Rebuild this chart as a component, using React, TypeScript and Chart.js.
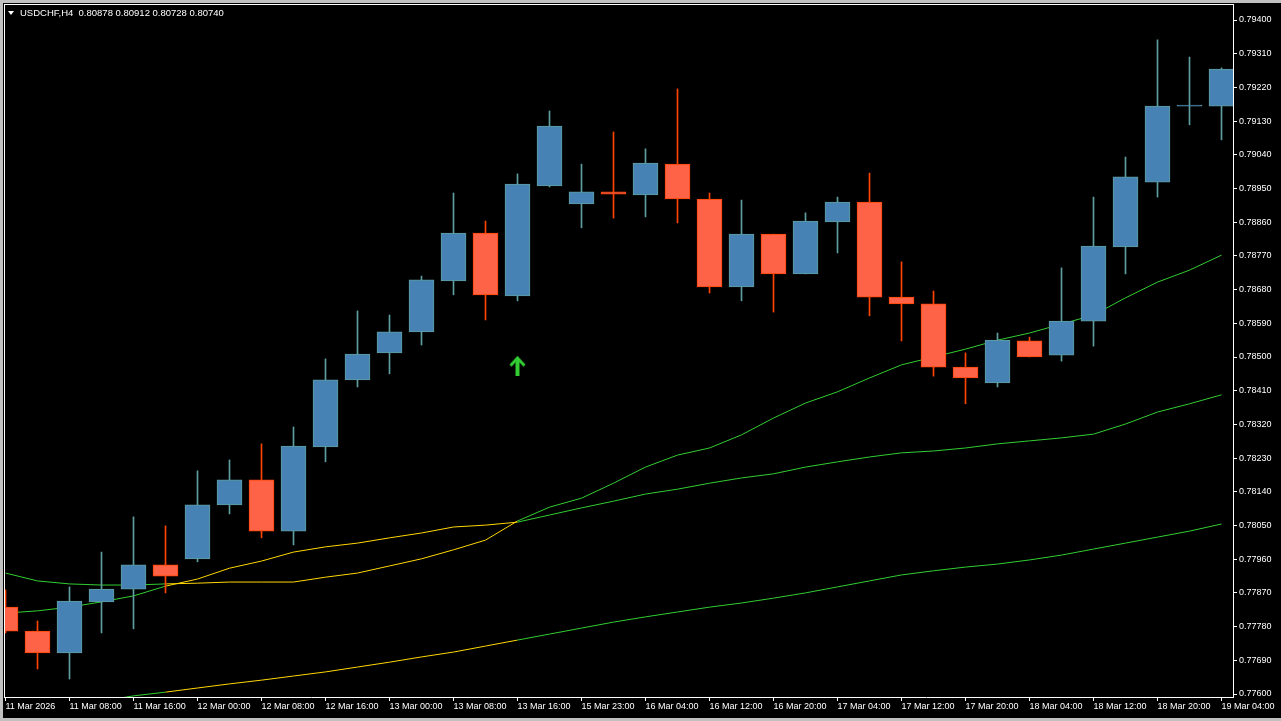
import React, { useEffect, useRef } from 'react';
import { Chart, registerables } from 'chart.js';

Chart.register(...registerables);

// time axis labels, one every 2 bars (H4)
const tickLabels = [
  '11 Mar 2026', '11 Mar 08:00', '11 Mar 16:00', '12 Mar 00:00', '12 Mar 08:00',
  '12 Mar 16:00', '13 Mar 00:00', '13 Mar 08:00', '13 Mar 16:00', '15 Mar 23:00',
  '16 Mar 04:00', '16 Mar 12:00', '16 Mar 20:00', '17 Mar 04:00', '17 Mar 12:00',
  '17 Mar 20:00', '18 Mar 04:00', '18 Mar 12:00', '18 Mar 20:00', '19 Mar 04:00',
];
const tickEvery = 2;

const priceTicks = [
  0.794, 0.7931, 0.7922, 0.7913, 0.7904, 0.7895, 0.7886, 0.7877, 0.7868, 0.7859, 0.785,
  0.7841, 0.7832, 0.7823, 0.7814, 0.7805, 0.7796, 0.7787, 0.7778, 0.7769, 0.776,
];

const opens = [
  0.77832, 0.77768, 0.7771, 0.77846, 0.7788, 0.77945, 0.77961, 0.78105, 0.78172, 0.78035,
  0.7826, 0.78439, 0.78511, 0.78567, 0.78703, 0.78831, 0.78663, 0.78957, 0.78909, 0.78941,
  0.78933, 0.79015, 0.78922, 0.78687, 0.78828, 0.78722, 0.78861, 0.78914, 0.7866, 0.78642,
  0.78473, 0.78431, 0.78543, 0.78505, 0.78596, 0.78794, 0.78967, 0.7917, 0.7917,
];
const highs = [
  0.77878, 0.77795, 0.77886, 0.77979, 0.78073, 0.78049, 0.78196, 0.78225, 0.78268, 0.78313,
  0.78495, 0.78623, 0.78612, 0.78716, 0.78938, 0.78863, 0.78989, 0.79157, 0.79015, 0.79101,
  0.79056, 0.79216, 0.78938, 0.78919, 0.78828, 0.78885, 0.78927, 0.78991, 0.78754, 0.78676,
  0.78511, 0.78564, 0.78553, 0.78738, 0.78927, 0.79034, 0.79347, 0.79301, 0.79272,
];
const lows = [
  0.77763, 0.77667, 0.7764, 0.77763, 0.77774, 0.7787, 0.77953, 0.78081, 0.78017, 0.77998,
  0.7822, 0.7842, 0.78455, 0.78532, 0.78666, 0.78599, 0.7865, 0.78954, 0.78845, 0.78871,
  0.78874, 0.78858, 0.78671, 0.7865, 0.7862, 0.78722, 0.78778, 0.7861, 0.78543, 0.78449,
  0.78375, 0.7842, 0.785, 0.78489, 0.78529, 0.78722, 0.78927, 0.7912, 0.7908,
];
const closes = [
  0.77768, 0.7771, 0.77848, 0.7788, 0.77945, 0.77915, 0.78105, 0.78172, 0.78035, 0.78262,
  0.78439, 0.78508, 0.78567, 0.78706, 0.78831, 0.78666, 0.78962, 0.79117, 0.78941, 0.78935,
  0.79018, 0.78922, 0.78687, 0.78828, 0.78722, 0.78863, 0.78914, 0.7866, 0.78642, 0.78473,
  0.78444, 0.78545, 0.785, 0.78596, 0.78796, 0.78981, 0.7917, 0.7917, 0.79269,
];

// moving averages
const maFast = [
  0.77923, 0.77902, 0.77894, 0.77891, 0.77891, 0.77894, 0.77896, 0.77899, 0.77899, 0.77899,
  0.77912, 0.77923, 0.77942, 0.77961, 0.77985, 0.78011, 0.78062, 0.78099, 0.78123, 0.78163,
  0.78206, 0.78238, 0.78257, 0.78292, 0.78337, 0.78377, 0.78407, 0.78444, 0.78479, 0.785,
  0.78521, 0.78545, 0.78564, 0.78588, 0.78612, 0.78658, 0.787, 0.78732, 0.78772,
];
const maMid = [
  0.77816, 0.77822, 0.77832, 0.77846, 0.77862, 0.77888, 0.77907, 0.77936, 0.77955, 0.77979,
  0.77993, 0.78003, 0.78017, 0.7803, 0.78046, 0.78051, 0.78059, 0.78078, 0.78097, 0.78115,
  0.78134, 0.78147, 0.78163, 0.78177, 0.78188, 0.78206, 0.7822, 0.78233, 0.78244, 0.78249,
  0.78257, 0.78268, 0.78276, 0.78284, 0.78294, 0.78321, 0.78353, 0.78375, 0.78399,
];
const maSlow = [
  0.77541, 0.77555, 0.77568, 0.77581, 0.77595, 0.77605, 0.77616, 0.77627, 0.77637, 0.77648,
  0.77659, 0.77672, 0.77685, 0.77699, 0.77712, 0.77728, 0.77744, 0.7776, 0.77776, 0.77792,
  0.77806, 0.77819, 0.77832, 0.77843, 0.77856, 0.7787, 0.77886, 0.77902, 0.77918, 0.77929,
  0.77939, 0.77947, 0.77958, 0.77971, 0.77987, 0.78003, 0.78019, 0.78035, 0.78054,
];
// bars where the trend filter was "flat" (lines drawn yellow)
const flatFrom = 5;
const flatTo = 16;

// buy signal arrow
const signalBar = 16;
const signalPrice = 0.78477;

const BULL_FILL = '#4682B4';
const BULL_LINE = '#5F9EA0';
const BEAR_FILL = '#FF6347';
const BEAR_LINE = '#FF4500';
const GREEN = '#32CD32';
const YELLOW = '#FFD700';
const FONT = "'Liberation Sans', Arial, sans-serif";

function makeArrow(): HTMLCanvasElement {
  const c = document.createElement('canvas');
  c.width = 17;
  c.height = 20;
  const g = c.getContext('2d')!;
  g.strokeStyle = GREEN;
  g.lineWidth = 3;
  g.beginPath();
  g.moveTo(1.5, 10);
  g.lineTo(8.5, 2.5);
  g.lineTo(15.5, 10);
  g.stroke();
  g.lineWidth = 4;
  g.beginPath();
  g.moveTo(8.5, 3);
  g.lineTo(8.5, 20);
  g.stroke();
  return c;
}

const App: React.FC = () => {
  const canvasRef = useRef<HTMLCanvasElement>(null);

  useEffect(() => {
    const canvas = canvasRef.current;
    if (!canvas) return;

    const bull = opens.map((o, i) => closes[i] >= o);
    const maSegment = {
      borderColor: (ctx: any) =>
        ctx.p0DataIndex >= flatFrom && ctx.p0DataIndex < flatTo ? YELLOW : GREEN,
    };
    const maLine = (values: number[]) => ({
      type: 'line' as const,
      data: values.map((v, i) => ({ x: i, y: v })),
      borderColor: GREEN,
      borderWidth: 1,
      pointRadius: 0,
      segment: maSegment,
      order: 3,
    });

    const framePlugin = {
      id: 'frame',
      afterDraw(chart: any) {
        const { ctx, chartArea } = chart;
        ctx.save();
        ctx.fillStyle = '#ffffff';
        ctx.fillRect(chartArea.left, chartArea.top, chartArea.right - chartArea.left, 1);
        ctx.fillRect(chartArea.left, chartArea.top, 1, chartArea.bottom - chartArea.top);
        ctx.restore();
      },
    };

    const chart = new Chart(canvas, {
      type: 'bar',
      data: {
        datasets: [
          {
            type: 'bar',
            data: lows.map((l, i) => ({ x: i, y: [l, highs[i]] })) as any,
            backgroundColor: bull.map((b) => (b ? BULL_LINE : BEAR_LINE)),
            borderWidth: 0,
            grouped: false,
            barPercentage: 1,
            categoryPercentage: 1,
            maxBarThickness: 1,
            order: 2,
          },
          {
            type: 'bar',
            data: opens.map((o, i) => ({ x: i, y: [o, closes[i]] })) as any,
            backgroundColor: bull.map((b) => (b ? BULL_FILL : BEAR_FILL)),
            borderColor: bull.map((b) => (b ? BULL_LINE : BEAR_LINE)),
            borderWidth: 1,
            borderSkipped: false,
            grouped: false,
            barPercentage: 1,
            categoryPercentage: 1,
            maxBarThickness: 25,
            minBarLength: 1,
            order: 1,
          },
          maLine(maFast) as any,
          maLine(maMid) as any,
          maLine(maSlow) as any,
          {
            type: 'line',
            data: [{ x: signalBar, y: signalPrice }],
            showLine: false,
            pointStyle: makeArrow(),
            pointRadius: 9,
            order: 0,
          } as any,
        ],
      },
      options: {
        animation: false,
        responsive: false,
        layout: { autoPadding: false, padding: { left: 4, top: 4, right: 0, bottom: 0 } },
        plugins: { legend: { display: false }, tooltip: { enabled: false } },
        events: [],
        scales: {
          x: {
            type: 'linear',
            offset: false,
            min: -1.5 / 32,
            max: -1.5 / 32 + 1229 / 32,
            afterBuildTicks: (scale: any) => {
              scale.ticks = tickLabels.map((_, j) => ({ value: j * tickEvery }));
            },
            afterFit: (scale: any) => {
              scale.height = 24;
              scale.paddingLeft = 0;
              scale.paddingRight = 0;
            },
            ticks: {
              autoSkip: false,
              maxRotation: 0,
              minRotation: 0,
              align: 'start',
              padding: 0,
              color: '#ffffff',
              font: { family: FONT, size: 9 },
              callback: (_v: any, index: number) => tickLabels[index],
            },
            grid: { display: true, drawOnChartArea: false, tickLength: 4, color: '#ffffff', offset: false },
            border: { display: true, color: '#ffffff' },
          },
          y: {
            type: 'linear',
            position: 'right',
            min: 0.7759199,
            max: 0.7944273,
            afterBuildTicks: (scale: any) => {
              scale.ticks = priceTicks.map((v) => ({ value: v }));
            },
            afterFit: (scale: any) => {
              scale.width = 48;
              scale.paddingTop = 0;
              scale.paddingBottom = 0;
            },
            ticks: {
              padding: 2,
              color: '#ffffff',
              font: { family: FONT, size: 9 },
              callback: (v: any) => Number(v).toFixed(5),
            },
            grid: { display: true, drawOnChartArea: false, tickLength: 4, color: '#ffffff' },
            border: { display: true, color: '#ffffff' },
          },
        },
      },
      plugins: [framePlugin],
    });

    return () => {
      chart.destroy();
    };
  }, []);

  return (
    <div
      style={{
        position: 'fixed',
        left: 0,
        top: 0,
        width: 1281,
        height: 721,
        background: '#c0c0c0',
        overflow: 'hidden',
      }}
    >
      <div style={{ position: 'absolute', left: 3, top: 3, right: 0, bottom: 3, background: '#000' }} />
      <canvas
        ref={canvasRef}
        width={1281}
        height={721}
        style={{ position: 'absolute', left: 0, top: 0, width: 1281, height: 721 }}
      />
      <div
        style={{
          position: 'absolute',
          left: 8,
          top: 11,
          width: 0,
          height: 0,
          borderLeft: '3.5px solid transparent',
          borderRight: '3.5px solid transparent',
          borderTop: '4px solid #ffffff',
        }}
      />
      <div
        style={{
          position: 'absolute',
          left: 20,
          top: 7,
          lineHeight: '12px',
          fontFamily: FONT,
          fontSize: 9.5,
          color: '#ffffff',
          whiteSpace: 'pre',
        }}
      >
        {'USDCHF,H4  0.80878 0.80912 0.80728 0.80740'}
      </div>
    </div>
  );
};

export default App;
